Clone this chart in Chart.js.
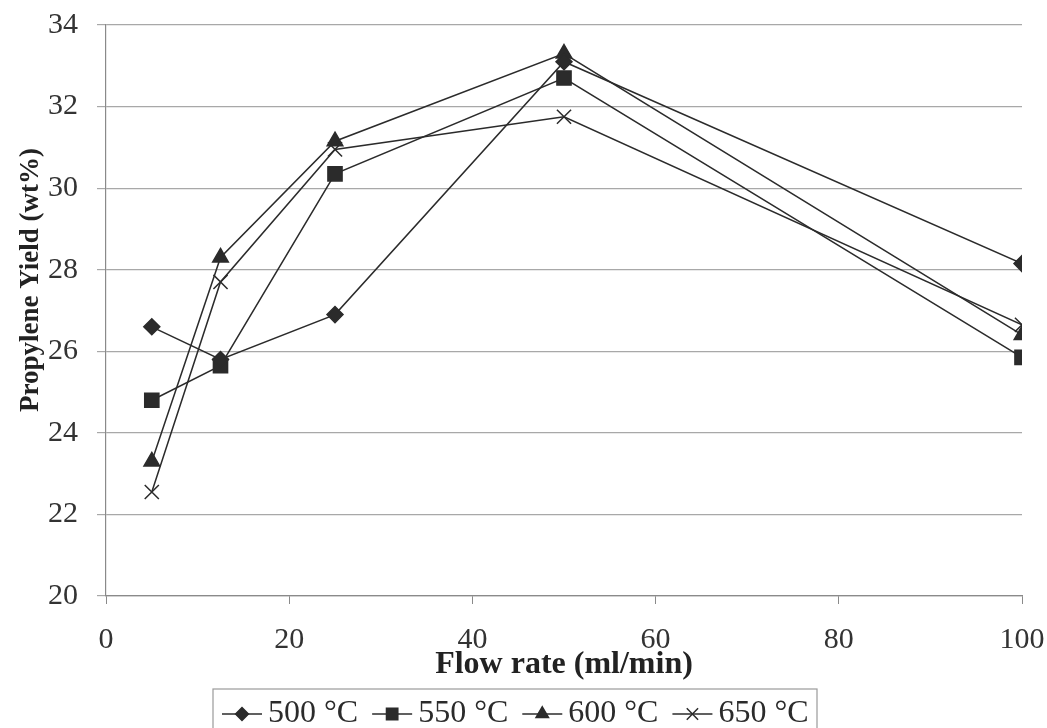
<!DOCTYPE html>
<html>
<head>
<meta charset="utf-8">
<script src="https://cdn.jsdelivr.net/npm/chart.js@4.4.1/dist/chart.umd.min.js"></script>
<style>
  html, body { margin: 0; padding: 0; background: #fff; }
  #wrap { width: 1047px; height: 728px; position: relative; }
</style>
</head>
<body>
<div id="wrap"><canvas id="yieldChart"></canvas></div>
<script>
// Flow rate (ml/min) on x, propylene yield (wt%) on y
const flowRates = [5, 12.5, 25, 50, 100];
const seriesLabels = ['500 °C', '550 °C', '600 °C', '650 °C'];
const yield500 = [26.6, 25.8, 26.9, 33.1, 28.15];
const yield550 = [24.8, 25.65, 30.35, 32.7, 25.85];
const yield600 = [23.3, 28.3, 31.15, 33.3, 26.4];
const yield650 = [22.55, 27.7, 30.95, 31.75, 26.65];
const xTicks = [0, 20, 40, 60, 80, 100];
const yTicks = [20, 22, 24, 26, 28, 30, 32, 34];

const ink = '#2b2b2b';
const serif = '"Liberation Serif", "Times New Roman", serif';
const markerStyles = ['rectRot', 'rect', 'triangle', 'crossRot'];
const markerSizes = [8, 10, 9, 10];

function makeDataset(label, values, i) {
    return {
        label: label,
        data: flowRates.map((x, k) => ({ x: x, y: values[k] })),
        borderColor: ink,
        backgroundColor: ink,
        borderWidth: 1.5,
        pointStyle: markerStyles[i],
        pointRadius: markerSizes[i],
        pointBorderWidth: 1.5,
        pointBackgroundColor: ink,
        pointBorderColor: ink,
        tension: 0
    };
}

// Legend box under the x axis title (line + marker + text), plus the y title
const extras = {
    id: 'extras',
    afterDraw(chart) {
        const ctx = chart.ctx;
        ctx.save();

        // y axis title, sits a bit above the plot's middle like the original
        ctx.save();
        ctx.translate(31, 280);
        ctx.rotate(-Math.PI / 2);
        ctx.font = 'bold 27px ' + serif;
        ctx.fillStyle = '#222';
        ctx.textAlign = 'center';
        ctx.textBaseline = 'middle';
        ctx.fillText('Propylene Yield (wt%)', 0, 0);
        ctx.restore();

        ctx.strokeStyle = '#9a9a9a';
        ctx.lineWidth = 1.2;
        ctx.strokeRect(213, 689, 604, 60);
        ctx.font = '32px ' + serif;
        ctx.textBaseline = 'middle';
        let x = 222;
        const y = 714;
        chart.data.datasets.forEach((ds) => {
            ctx.strokeStyle = ink;
            ctx.lineWidth = 1.5;
            ctx.beginPath();
            ctx.moveTo(x, y);
            ctx.lineTo(x + 40, y);
            ctx.stroke();
            ctx.fillStyle = ink;
            Chart.helpers.drawPoint(ctx, {
                pointStyle: ds.pointStyle,
                radius: ds.pointRadius * 0.8,
                rotation: 0,
                borderWidth: 1.5
            }, x + 20, y);
            ctx.fillStyle = ink;
            ctx.fillText(ds.label, x + 46, y);
            x += 46 + ctx.measureText(ds.label).width + 14;
        });
        ctx.restore();
    }
};

new Chart(document.getElementById('yieldChart'), {
    type: 'line',
    data: {
        datasets: [
            makeDataset(seriesLabels[0], yield500, 0),
            makeDataset(seriesLabels[1], yield550, 1),
            makeDataset(seriesLabels[2], yield600, 2),
            makeDataset(seriesLabels[3], yield650, 3)
        ]
    },
    options: {
        responsive: true,
        maintainAspectRatio: false,
        animation: false,
        layout: { padding: { top: 25, right: 25, left: 0, bottom: 44 } },
        plugins: {
            legend: { display: false },
            tooltip: { enabled: false }
        },
        scales: {
            x: {
                type: 'linear',
                min: xTicks[0],
                max: xTicks[xTicks.length - 1],
                afterFit: (s) => {
                    s.height = 88;
                    s.paddingLeft = 0;
                    s.paddingRight = 0;
                },
                afterBuildTicks: (s) => { s.ticks = xTicks.map(v => ({ value: v })); },
                border: { display: true, color: '#8a8a8a', width: 1.2 },
                grid: { drawOnChartArea: false, drawTicks: true, tickLength: 8, color: '#8a8a8a' },
                ticks: {
                    color: '#333',
                    padding: 18,
                    maxRotation: 0,
                    font: { family: serif, size: 30 }
                },
                title: {
                    display: true,
                    text: 'Flow rate (ml/min)',
                    color: '#222',
                    padding: { top: 0, bottom: 0 },
                    font: { family: serif, size: 32, weight: 'bold' }
                }
            },
            y: {
                min: yTicks[0],
                max: yTicks[yTicks.length - 1],
                afterFit: (s) => {
                    s.width = 106;
                    s.paddingTop = 0;
                    s.paddingBottom = 0;
                },
                afterBuildTicks: (s) => { s.ticks = yTicks.map(v => ({ value: v })); },
                border: { display: true, color: '#8a8a8a', width: 1.2 },
                grid: { drawOnChartArea: true, drawTicks: true, tickLength: 9, color: '#a8a8a8', lineWidth: 1.2 },
                ticks: {
                    color: '#333',
                    padding: 19,
                    font: { family: serif, size: 30 }
                },
                title: { display: false }
            }
        }
    },
    plugins: [extras]
});
</script>
</body>
</html>
